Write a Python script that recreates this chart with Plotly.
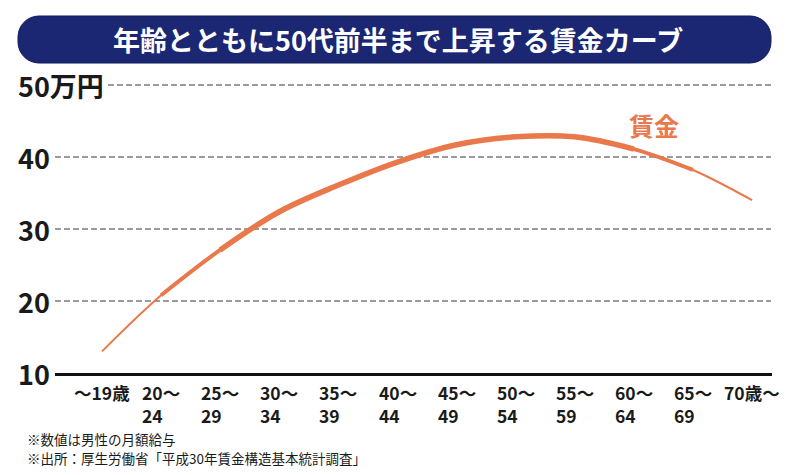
import plotly.graph_objects as go

# 年齢階級 (x categories) and their two-line tick labels
ages = ["～19歳", "20～24", "25～29", "30～34", "35～39", "40～44",
        "45～49", "50～54", "55～59", "60～64", "65～69", "70歳～"]
tick_labels = ["～19歳", "20～<br>24", "25～<br>29", "30～<br>34", "35～<br>39",
               "40～<br>44", "45～<br>49", "50～<br>54", "55～<br>59",
               "60～<br>64", "65～<br>69", "70歳～"]

# 賃金 (万円)
wage = [13.0, 20.8, 27.1, 32.4, 36.1, 39.3, 41.7, 42.8, 42.8, 41.1, 38.2, 34.0]

y_ticks = [10, 20, 30, 40, 50]
y_ticktext = ["10", "20", "30", "40", "50万円"]

notes = ["※数値は男性の月額給与", "※出所：厚生労働省「平成30年賃金構造基本統計調査」"]

COLORS = {
    "navy": "#1b2773",
    "orange": "#e9784a",
    "grid": "#9b9b9b",
    "text": "#1a1a1a",
}
FONT = "Noto Sans CJK JP"

W, H = 800, 475
M = dict(l=55, r=28, t=70, b=102)
PW = W - M["l"] - M["r"]
PH = H - M["t"] - M["b"]


def px(x):
    return (x - M["l"]) / PW


def py(y):
    return (H - M["b"] - y) / PH


def rounded_rect(x0, y0, x1, y1, r):
    k = 0.5523 * r
    pts = [
        ("M", [(x0 + r, y0)]),
        ("L", [(x1 - r, y0)]),
        ("C", [(x1 - r + k, y0), (x1, y0 + r - k), (x1, y0 + r)]),
        ("L", [(x1, y1 - r)]),
        ("C", [(x1, y1 - r + k), (x1 - r + k, y1), (x1 - r, y1)]),
        ("L", [(x0 + r, y1)]),
        ("C", [(x0 + r - k, y1), (x0, y1 - r + k), (x0, y1 - r)]),
        ("L", [(x0, y0 + r)]),
        ("C", [(x0, y0 + r - k), (x0 + r - k, y0), (x0 + r, y0)]),
    ]
    out = ""
    for cmd, ps in pts:
        out += cmd + " ".join(f"{px(a):.5f},{py(b):.5f}" for a, b in ps) + " "
    return out + "Z"


fig = go.Figure()

# tapered wage curve: thin full line, thicker inner sections
for lo, hi, w in [(0, 12, 2.0), (1, 11, 4.0), (2, 10, 5.5)]:
    fig.add_trace(go.Scatter(
        x=ages[lo:hi], y=wage[lo:hi],
        mode="lines",
        line=dict(color=COLORS["orange"], width=w, shape="spline", smoothing=1.0),
        hoverinfo="skip",
        showlegend=False,
    ))

shapes = [dict(
    type="path", xref="paper", yref="paper",
    path=rounded_rect(18, 16, 771, 63, 21),
    fillcolor=COLORS["navy"], line=dict(color="#141d5c", width=1),
    layer="below",
)]
# dashed gridlines (the top one starts after its label)
for v in y_ticks[1:]:
    x_start = px(108) if v == y_ticks[-1] else 0
    shapes.append(dict(
        type="line", xref="paper", yref="y",
        x0=x_start, x1=px(771), y0=v, y1=v,
        line=dict(color=COLORS["grid"], width=2, dash="6px,3px"),
        layer="below",
    ))

annotations = [dict(
    text="<b>年齢とともに50代前半まで上昇する賃金カーブ</b>",
    xref="paper", yref="paper", x=px(398), y=py(40),
    xanchor="center", yanchor="middle", showarrow=False,
    font=dict(family=FONT, size=27, color="white"),
)]
for v, t in zip(y_ticks, y_ticktext):
    annotations.append(dict(
        text=f"<b>{t}</b>", xref="paper", yref="y", x=px(16), y=v,
        xanchor="left", yanchor="middle", showarrow=False,
        font=dict(family=FONT, size=27, color=COLORS["text"]),
    ))
for cat, t in zip(ages, tick_labels):
    annotations.append(dict(
        text=t, xref="x", yref="paper", x=cat, y=py(379),
        xanchor="center", yanchor="top", align="left", showarrow=False,
        borderpad=0,
        font=dict(family=FONT, size=17.5, color=COLORS["text"], weight=600),
    ))
annotations.append(dict(
    text="<b>賃金</b>", xref="paper", yref="paper", x=px(654), y=py(125),
    xanchor="center", yanchor="middle", showarrow=False,
    font=dict(family=FONT, size=25, color=COLORS["orange"]),
))
for note, yy in zip(notes, [439, 458]):
    annotations.append(dict(
        text=note, xref="paper", yref="paper", x=px(26), y=py(yy),
        xanchor="left", yanchor="middle", showarrow=False, borderpad=0,
        font=dict(family=FONT, size=13.5, color=COLORS["text"]),
    ))

fig.update_layout(
    width=W, height=H,
    margin=M,
    paper_bgcolor="white",
    plot_bgcolor="white",
    font=dict(family=FONT, color=COLORS["text"]),
    showlegend=False,
    xaxis=dict(
        type="category", categoryorder="array", categoryarray=ages,
        range=[-(102 - 55) / 59.1, (772 - 102) / 59.1],
        showgrid=False, zeroline=False, showticklabels=False, ticks="",
        showline=True, linecolor="#111111", linewidth=3,
    ),
    yaxis=dict(
        range=[10, 50 + (85 - 70) / 7.2],
        showgrid=False, zeroline=False, showticklabels=False, ticks="",
        showline=False, fixedrange=True,
    ),
    shapes=shapes,
    annotations=annotations,
)

fig.write_html(
    "out.html",
    config={"displayModeBar": False},
    post_script="document.body.style.margin='0';",
)
